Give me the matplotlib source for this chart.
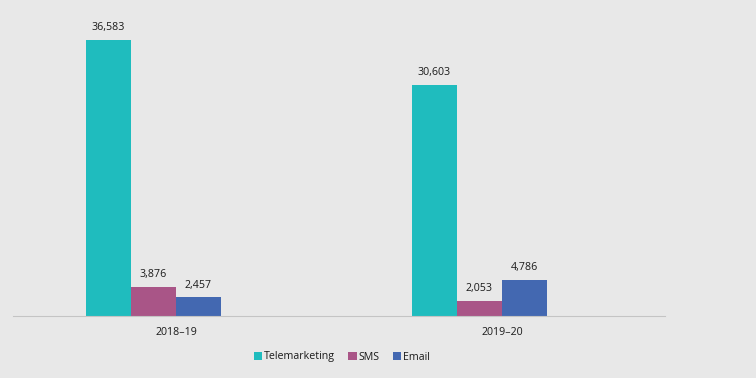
import numpy as np
import matplotlib.pyplot as plt

periods = ["2018\u201319", "2019\u201320"]
channels = ["Telemarketing", "SMS", "Email"]
telemarketing = [36583, 30603]
sms = [3876, 2053]
email = [2457, 4786]

colors = ["#1FBCBE", "#A95587", "#4368B1"]
bg = "#E8E8E8"

plt.rcParams["font.family"] = ["Open Sans", "DejaVu Sans"]

fig = plt.figure(figsize=(7.56, 3.78), dpi=100, facecolor=bg)
ax = fig.add_axes([13 / 756, 1 - 316 / 378, 652 / 756, 301.8 / 378])
ax.set_facecolor(bg)

x = np.arange(len(periods))
w = 45 / 326
# four slots per group in the source, last one empty
offsets = [-1.5 * w, -0.5 * w, 0.5 * w]

for vals, name, c, off in zip([telemarketing, sms, email], channels, colors, offsets):
    bars = ax.bar(x + off, vals, width=w, color=c, label=name, linewidth=0)
    for b, v in zip(bars, vals):
        ax.annotate(f"{v:,}", (b.get_x() + b.get_width() / 2, v),
                    xytext=(0, 5), textcoords="offset points",
                    ha="center", va="bottom", fontsize=7.7, color="#1a1a1a")

ax.set_xlim(-0.5, 1.5)
ax.set_ylim(0, 40000)
ax.set_xticks(x)
ax.set_xticklabels(periods, fontsize=7.7, color="#1a1a1a")
ax.tick_params(axis="x", length=0, pad=8)
ax.set_yticks([])
for s in ["top", "right", "left"]:
    ax.spines[s].set_visible(False)
ax.spines["bottom"].set_color("#C4C4C4")
ax.spines["bottom"].set_linestyle((0, (1, 1)))
ax.spines["bottom"].set_linewidth(0.8)

fig.legend(loc="center", bbox_to_anchor=(342 / 756, 1 - 357 / 378), ncol=3,
           frameon=False, fontsize=7.7, handlelength=0.8, handleheight=0.8,
           handletextpad=0.2, columnspacing=1.2, labelcolor="#1a1a1a")

fig.savefig("out.png", dpi=100, facecolor=bg)
